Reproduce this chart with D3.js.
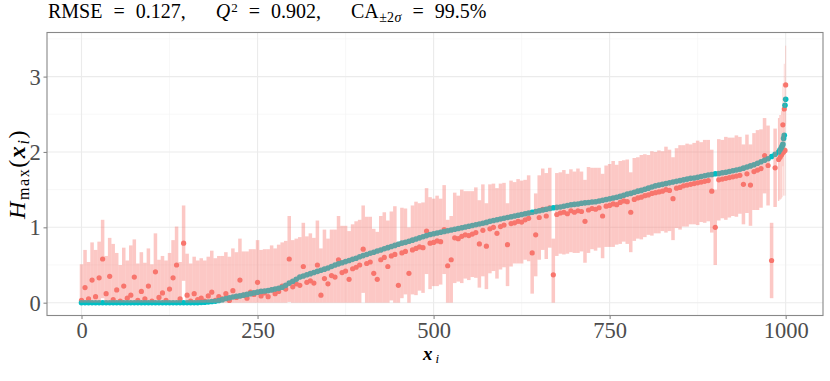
<!DOCTYPE html>
<html>
<head>
<meta charset="utf-8">
<script src="https://cdn.jsdelivr.net/npm/d3@7"></script>
<style>
  body { margin: 0; background: #fff; }
  svg { display: block; font-family: "Liberation Serif", "DejaVu Serif", serif; }
</style>
</head>
<body>
<svg id="chart" width="830" height="381"></svg>
<script>
/*
  Sorted truth vs. prediction plot with +-2 sigma bars.
*/

// Observation indices (every 5th point, plus the steep tail).
const obsIndex = d3.range(0, 990, 5).concat([990, 992, 994, 995, 996, 997, 998, 999, 1000]);

// True values H_max(x_i), sorted (teal).
const truthValues = [
    0, 0, 0, 0, 0, 0, 0, 0, 0, 0, 0, 0, 0, 0, 0, 0, 0, 0, 0, 0,
    0, 0, 0, 0, 0, 0, 0, 0, 0, 0, 0, 0, 0, 0, 0.003, 0.006, 0.01, 0.015, 0.02, 0.03,
    0.04, 0.055, 0.065, 0.075, 0.085, 0.09, 0.10, 0.11, 0.12, 0.13, 0.14, 0.15, 0.155, 0.16, 0.17, 0.18, 0.19, 0.205, 0.23, 0.26,
    0.285, 0.31, 0.34, 0.355, 0.37, 0.385, 0.40, 0.415, 0.43, 0.445, 0.46, 0.48, 0.50, 0.515, 0.53, 0.545, 0.56, 0.575, 0.59, 0.61,
    0.625, 0.64, 0.655, 0.67, 0.685, 0.70, 0.715, 0.73, 0.745, 0.76, 0.775, 0.79, 0.80, 0.815, 0.83, 0.845, 0.86, 0.875, 0.89, 0.905,
    0.915, 0.925, 0.935, 0.945, 0.955, 0.965, 0.975, 0.985, 0.995, 1.005, 1.015, 1.025, 1.035, 1.045, 1.055, 1.065, 1.08, 1.09, 1.10, 1.11,
    1.12, 1.13, 1.14, 1.15, 1.16, 1.17, 1.18, 1.19, 1.20, 1.21, 1.22, 1.23, 1.24, 1.25, 1.26, 1.265, 1.27, 1.28, 1.29, 1.30,
    1.305, 1.31, 1.32, 1.325, 1.33, 1.335, 1.34, 1.35, 1.36, 1.37, 1.38, 1.39, 1.40, 1.41, 1.425, 1.44, 1.45, 1.465, 1.48, 1.49,
    1.505, 1.52, 1.535, 1.55, 1.56, 1.57, 1.58, 1.59, 1.60, 1.61, 1.62, 1.63, 1.64, 1.65, 1.655, 1.665, 1.675, 1.685, 1.695, 1.70,
    1.71, 1.715, 1.725, 1.73, 1.74, 1.75, 1.76, 1.77, 1.785, 1.80, 1.815, 1.83, 1.85, 1.87, 1.89, 1.91, 1.94, 1.97,
    2.00, 2.03, 2.06, 2.08, 2.10, 2.18, 2.22, 2.62, 2.70
];

// Predicted values (red).
const predValues = [
    0.03, 0.20, 0.05, 0.30, 0.08, 0.33, 0.58, 0.12, 0.35, 0.04, 0.17, 0.02, 0.22, 0.06, 0.10, 0.34, 0.03, 0.15, 0.05, 0.22,
    0.02, 0.41, 0.07, 0.13, 0.03, 0.18, 0.33, 0.50, 0.05, 0.79, 0.10, 0.02, 0.12, 0.04, 0.06, 0.02, 0.09, 0.14, 0.03, 0.08,
    0.05, 0.12, 0.03, 0.16, 0.07, 0.30, 0.10, 0.06, 0.14, 0.11, 0.27, 0.09, 0.13, 0.08, 0.17, 0.12, 0.15, 0.22, 0.18, 0.58,
    0.21, 0.25, 0.23, 0.48, 0.27, 0.29, 0.26, 0.50, 0.10, 0.32, 0.25, 0.36, 0.34, 0.57, 0.40, 0.42, 0.31, 0.45, 0.47, 0.50,
    0.71, 0.52, 0.54, 0.39, 0.31, 0.57, 0.60, 0.48, 0.62, 0.64, 0.23, 0.66, 0.68, 0.39, 0.70, 0.72, 0.74, 0.73, 0.95, 0.79,
    0.80, 0.82, 0.81, 0.97, 0.49, 0.57, 0.86, 0.85, 0.88, 0.90, 0.89, 0.91, 0.93, 0.78, 0.96, 0.75, 0.98, 1.00, 0.92, 1.01,
    1.03, 0.77, 1.05, 1.06, 1.08, 1.07, 1.10, 1.12, 0.66, 0.90, 1.13, 1.24, 1.15, 1.26, 0.37, 1.17, 1.19, 1.20, 1.18, 1.22,
    1.20, 1.22, 1.21, 1.08, 1.23, 1.25, 1.24, 1.26, 1.15, 1.28, 1.29, 1.31, 1.30, 1.33, 1.35, 1.34, 1.20, 1.37, 1.39, 1.40,
    1.42, 1.43, 1.45, 1.46, 1.47, 1.48, 1.50, 1.49, 1.38, 1.52, 1.53, 1.55, 1.56, 1.57, 1.58, 1.59, 1.60, 1.61, 1.62, 1.48,
    1.00, 1.63, 1.64, 1.65, 1.66, 1.67, 1.68, 1.69, 1.57, 1.71, 1.56, 1.74, 1.76, 1.78, 1.95, 1.82, 0.56, 1.79,
    1.90, 1.93, 1.96, 1.98, 2.36, 2.00, 2.57, 2.02, 2.89
];

// Half width of the prediction interval (2 sigma).
const twoSigma = [
    0.48, 0.50, 0.49, 0.50, 0.62, 0.48, 0.52, 0.50, 0.51, 0.74, 0.49, 0.48, 0.51, 0.50, 0.66, 0.50, 0.49, 0.52, 0.48, 0.50,
    0.49, 0.51, 0.50, 0.49, 0.53, 0.48, 0.50, 0.51, 0.49, 0.50, 0.55, 0.50, 0.49, 0.52, 0.53, 0.54, 0.52, 0.55, 0.56, 0.54,
    0.57, 0.55, 0.58, 0.56, 0.60, 0.55, 0.58, 0.62, 0.57, 0.60, 0.56, 0.61, 0.58, 0.63, 0.59, 0.60, 0.62, 0.58, 0.64, 0.57,
    0.62, 0.60, 0.64, 0.58, 0.61, 0.63, 0.60, 0.59, 0.62, 0.65, 0.60, 0.61, 0.63, 0.58, 0.62, 0.60, 0.64, 0.59, 0.61, 0.60,
    0.58, 0.62, 0.60, 0.59, 0.63, 0.58, 0.60, 0.61, 0.59, 0.64, 0.58, 0.60, 0.57, 0.61, 0.59, 0.62, 0.58, 0.60, 0.57, 0.61,
    0.58, 0.60, 0.57, 0.59, 0.61, 0.58, 0.60, 0.57, 0.62, 0.58, 0.59, 0.57, 0.60, 0.58, 0.61, 0.57, 0.59, 0.58, 0.60, 0.57,
    0.56, 0.55, 0.57, 0.54, 0.56, 0.55, 0.53, 0.57, 0.54, 0.55, 0.56, 0.54, 0.57, 0.53, 0.48, 0.55, 0.54, 0.56, 0.53, 0.55,
    0.54, 0.56, 0.53, 0.55, 0.57, 0.54, 0.55, 0.53, 0.56, 0.54, 0.55, 0.57, 0.53, 0.55, 0.54, 0.56, 0.53, 0.55, 0.54, 0.56,
    0.55, 0.53, 0.56, 0.54, 0.55, 0.53, 0.57, 0.54, 0.55, 0.53, 0.56, 0.54, 0.55, 0.53, 0.54, 0.56, 0.53, 0.55, 0.54, 0.55,
    0.50, 0.54, 0.52, 0.55, 0.53, 0.52, 0.54, 0.51, 0.53, 0.52, 0.54, 0.51, 0.53, 0.52, 0.50, 0.53, 0.50, 0.52,
    0.55, 0.56, 0.58, 0.58, 0.55, 0.58, 0.60, 0.60, 0.52
];

const xTicks = [0, 250, 500, 750, 1000];
const xMinor = [125, 375, 625, 875];
const yTicks = [0, 1, 2, 3];
const yMinor = [0.5, 1.5, 2.5, 3.5];

// Title pieces: text, font size, style, baseline shift, gap after.
const titleParts = [
    ['RMSE', 20, 'normal', 0, 11],
    ['=', 20, 'normal', 0, 11],
    ['0.127,', 20, 'normal', 0, 30],
    ['Q', 20, 'italic', 0, 1],
    ['2', 13, 'normal', -6, 11],
    ['=', 20, 'normal', 0, 11],
    ['0.902,', 20, 'normal', 0, 30],
    ['CA', 20, 'normal', 0, 0.5],
    ['±2', 14, 'normal', 4, 0.5],
    ['σ', 14, 'italic', 4, 11],
    ['=', 20, 'normal', 0, 11],
    ['99.5%', 20, 'normal', 0, 0]
];

const red = '#F8766D', teal = '#00BFC4';
const serif = '"Liberation Serif", "DejaVu Serif", serif';

let panel = {left: 47, right: 823, top: 32.5, bottom: 315.5};

let svg = d3.select('#chart');

let data = obsIndex.map((d, i) => ({
    idx: d,
    gap: i < obsIndex.length - 1 ? obsIndex[i + 1] - d : 1,
    truth: truthValues[i],
    pred: predValues[i],
    lo: Math.max(0, predValues[i] - twoSigma[i]),
    hi: predValues[i] + twoSigma[i]
}));

let x = d3.scaleLinear().domain([-49, 1053]).range([panel.left, panel.right]);
let y = d3.scaleLinear().domain([-0.17, 3.585]).range([panel.bottom, panel.top]);

// Stretch a text to a target length by letter spacing.
const fitLength = (sel, target) => {
    let len = sel.node().getComputedTextLength();
    let n = sel.text().length;
    sel.style('letter-spacing', ((target - len) / n) + 'px');
}

// grid
let grid = svg.append('g');
grid.selectAll('.xminor').data(xMinor).enter().append('line')
    .attr('x1', d => x(d)).attr('x2', d => x(d))
    .attr('y1', panel.top).attr('y2', panel.bottom)
    .attr('stroke', '#f3f3f3').attr('stroke-width', 0.6);
grid.selectAll('.yminor').data(yMinor).enter().append('line')
    .attr('x1', panel.left).attr('x2', panel.right)
    .attr('y1', d => y(d)).attr('y2', d => y(d))
    .attr('stroke', '#f3f3f3').attr('stroke-width', 0.6);
grid.selectAll('.xmajor').data(xTicks).enter().append('line')
    .attr('x1', d => x(d)).attr('x2', d => x(d))
    .attr('y1', panel.top).attr('y2', panel.bottom)
    .attr('stroke', '#ebebeb').attr('stroke-width', 1.1);
grid.selectAll('.ymajor').data(yTicks).enter().append('line')
    .attr('x1', panel.left).attr('x2', panel.right)
    .attr('y1', d => y(d)).attr('y2', d => y(d))
    .attr('stroke', '#ebebeb').attr('stroke-width', 1.1);

// points
svg.append('g').selectAll('circle').data(data).enter().append('circle')
    .attr('cx', d => x(d.idx)).attr('cy', d => y(d.pred))
    .attr('r', 2.6).attr('fill', red);
svg.append('g').selectAll('circle').data(data).enter().append('circle')
    .attr('cx', d => x(d.idx)).attr('cy', d => y(d.truth))
    .attr('r', 2.8).attr('fill', teal);

// error bars on top
svg.append('g').selectAll('line').data(data).enter().append('line')
    .attr('x1', d => x(d.idx)).attr('x2', d => x(d.idx))
    .attr('y1', d => y(d.lo)).attr('y2', d => y(d.hi))
    .attr('stroke', red).attr('stroke-opacity', 0.4)
    .attr('stroke-width', d => Math.min(x(d.gap) - x(0), 3.53));

// panel border
svg.append('rect')
    .attr('x', panel.left).attr('y', panel.top)
    .attr('width', panel.right - panel.left).attr('height', panel.bottom - panel.top)
    .attr('fill', 'none').attr('stroke', '#888').attr('stroke-width', 1.1);

// axes
let xAxis = d3.axisBottom(x).tickValues(xTicks).tickFormat(d3.format('d')).tickSize(3.5).tickPadding(4);
let gx = svg.append('g').attr('transform', `translate(0,${panel.bottom})`).call(xAxis);
let yAxis = d3.axisLeft(y).tickValues(yTicks).tickFormat(d3.format('d')).tickSize(3.5).tickPadding(3);
let gy = svg.append('g').attr('transform', `translate(${panel.left},0)`).call(yAxis);
[gx, gy].forEach(g => {
    g.select('.domain').remove();
    g.selectAll('line').attr('stroke', '#888').attr('stroke-width', 1.1);
    g.selectAll('text').attr('fill', '#4d4d4d')
        .style('font-family', serif).style('font-size', '22.5px');
});
gx.selectAll('text').attr('dy', null).attr('y', 22);
gy.selectAll('text').attr('dy', '0.33em').attr('x', -6.3);

// title, laid out piece by piece
let title = svg.append('text').style('font-family', serif).attr('fill', '#000');
let cursor = 48;
titleParts.forEach(([t, fs, st, shift, gapAfter]) => {
    let ts = title.append('tspan').attr('x', cursor).attr('y', 18.2 + shift)
        .style('font-size', fs + 'px').style('font-style', st).text(t);
    cursor += ts.node().getComputedTextLength() + gapAfter;
});

// y axis title
let yt = svg.append('text').attr('transform', 'translate(24.5,174) rotate(-90)')
    .attr('text-anchor', 'middle').style('font-family', serif).style('font-size', '24px').attr('fill', '#000');
yt.append('tspan').style('font-style', 'italic').text('H');
yt.append('tspan').attr('dy', 4).style('font-size', '16px').text('max');
yt.append('tspan').attr('dy', -4).text('(');
yt.append('tspan').style('font-style', 'italic').style('font-weight', 'bold').text('x');
yt.append('tspan').attr('dy', 4).style('font-size', '16px').style('font-style', 'italic').text('i');
yt.append('tspan').attr('dy', -4).text(')');
fitLength(yt, 90);

// x axis title
let xt = svg.append('text').attr('x', x(500) - 1).attr('y', 359.5)
    .attr('text-anchor', 'middle').style('font-family', serif).style('font-size', '19px').attr('fill', '#000');
xt.append('tspan').style('font-style', 'italic').style('font-weight', 'bold').text('x');
xt.append('tspan').attr('dy', 3).style('font-size', '13px').style('font-style', 'italic').text('i');
fitLength(xt, 19);
</script>
</body>
</html>
